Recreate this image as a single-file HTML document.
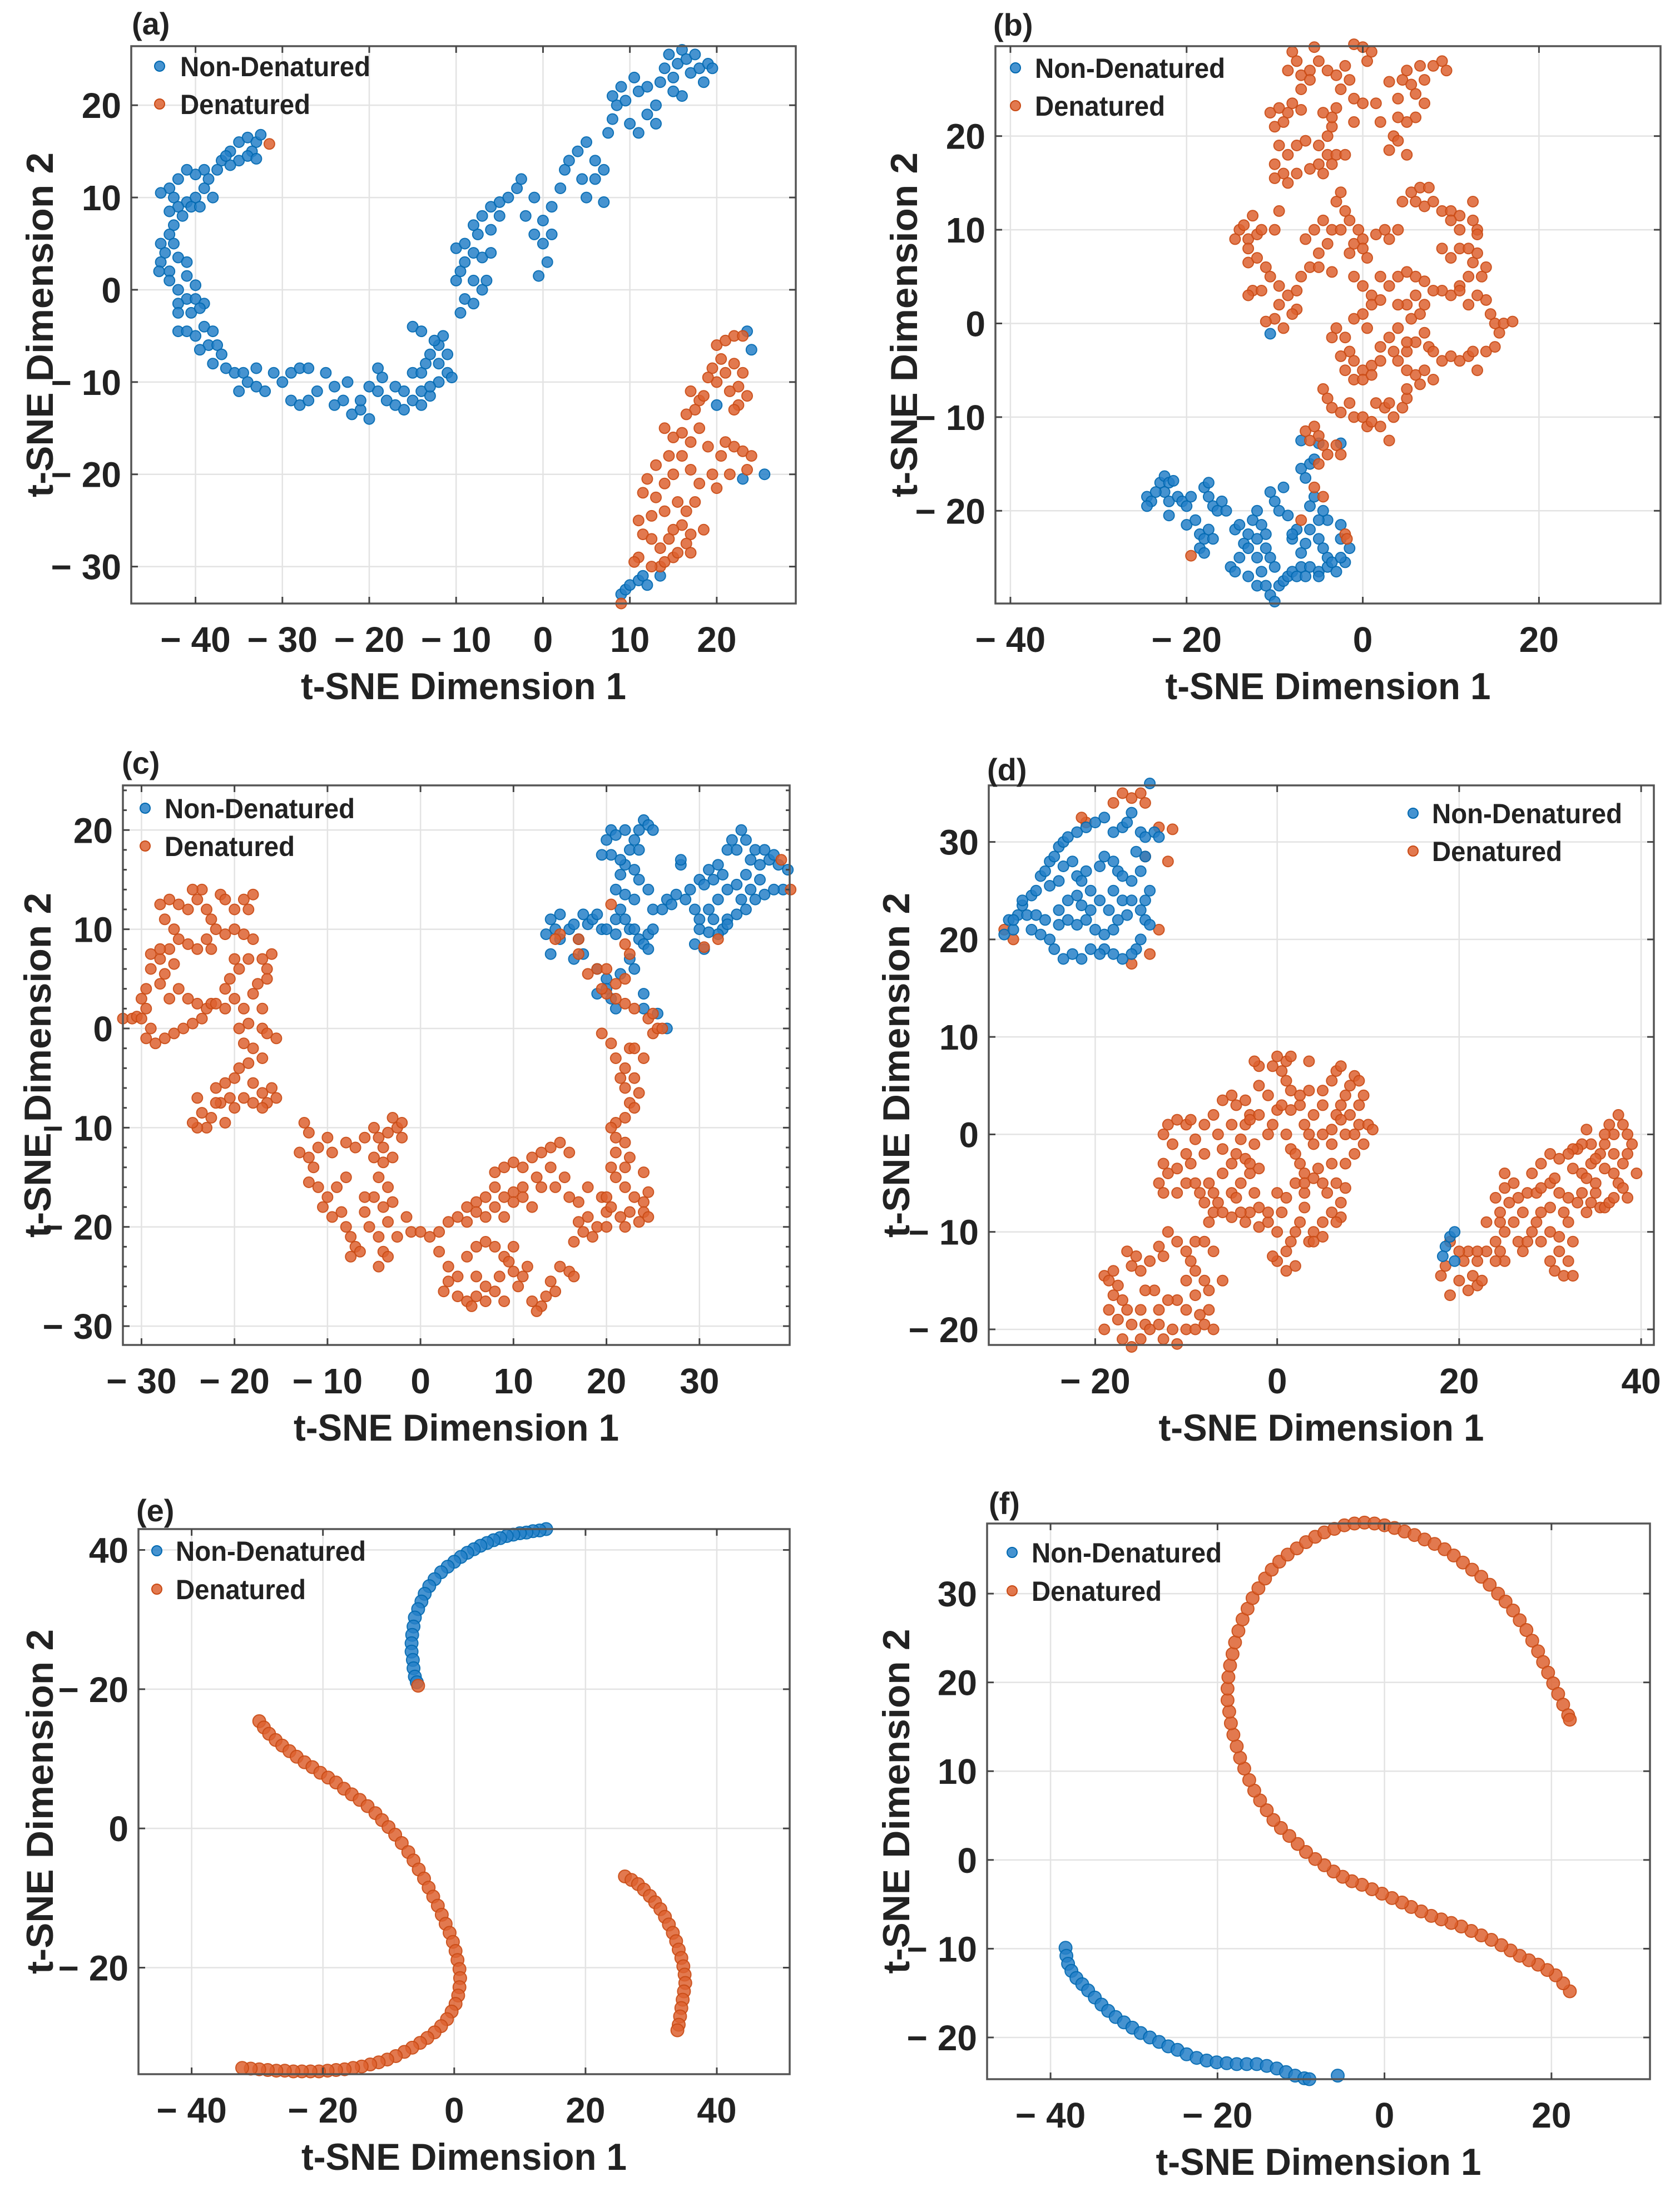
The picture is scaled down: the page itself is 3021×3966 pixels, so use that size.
<!DOCTYPE html>
<html><head><meta charset="utf-8">
<style>
html,body{margin:0;padding:0;background:#fff;}
svg{display:block;}
text{font-family:"Liberation Sans",Arial,sans-serif;font-weight:bold;fill:#222;}
</style></head>
<body>
<svg id="fig" width="3021" height="3966" viewBox="0 0 3021 3966" xmlns="http://www.w3.org/2000/svg"></svg>
<script>
// ---------------- DATA ----------------
const seriesNames = ["Non-Denatured", "Denatured"];
const panelLetters = ["(a)","(b)","(c)","(d)","(e)","(f)"];

const aTicksX = [-40,-30,-20,-10,0,10,20];
const aTicksY = [-30,-20,-10,0,10,20];
const bTicksX = [-40,-20,0,20];
const bTicksY = [-20,-10,0,10,20];
const cTicksX = [-30,-20,-10,0,10,20,30];
const cTicksY = [-30,-20,-10,0,10,20];
const dTicksX = [-20,0,20,40];
const dTicksY = [-20,-10,0,10,20,30];
const eTicksX = [-40,-20,0,20,40];
const eTicksY = [40,20,0,-20];
const eTickLabelsY = ["40","\u2212 20","0","\u2212 20"];
const fTicksX = [-40,-20,0,20];
const fTicksY = [-20,-10,0,10,20,30];

const aBlue = [[-37,14],[-36,15],[-35,16],[-34,16.5],[-33,16],[-32.5,16.8],[-33.5,15],[-35,14],[-36,13.5],[-34,14.5],[-33,14.2],[-37.5,13],[-36.5,14.5],
[-39,13],[-38.5,12],[-40,12.5],[-41,13],[-42,12],[-43,11],[-44,10.5],[-42.5,10],[-41,9.5],[-40,10],[-39,11],[-38,10],[-42,9],[-43,8.5],[-41.5,8],[-40.5,9],[-39.5,9],[-42.5,7],
[-43,6],[-44,5],[-43.5,4],[-42.5,5],[-44,3],[-43,2],[-42,3.5],[-41,3],[-44.2,2],[-43,1],[-42,0],[-41,1.5],[-40,0.5],[-41,-1],[-42,-1.5],[-40,-1],[-39,-1.5],[-42,-2.5],[-40.5,-2.5],[-39.5,-2],
[-42,-4.5],[-41,-4.5],[-40,-5],[-39,-4],[-38,-4.5],[-38.5,-6],[-39.5,-6.5],[-37.5,-6],[-37,-7],[-38,-8],[-36.5,-8.5],[-35.5,-9],[-34.5,-9],[-33,-8.5],[-34,-10],[-35,-11],[-33,-10.5],[-32,-11],[-31,-9],[-30,-10],[-29,-9],[-28,-8.5],[-27,-8.5],
[-29,-12],[-28,-12.5],[-27,-12],[-26,-11],[-25,-9],[-24,-10.5],[-23,-12],[-22,-13.5],[-21,-13],[-20,-14],[-21,-12],[-24,-12.5],[-22.5,-10],[-20,-10.5],[-19,-11],[-18,-12],[-17,-12.5],[-18.5,-9.5],[-19,-8.5],[-17,-10.5],[-16,-11],[-16,-13],[-15,-12],[-14,-11],[-15,-9],
[-14,-9],[-13.5,-8],[-13,-7],[-12,-6],[-11.5,-5],[-12.5,-5.5],[-11,-7],[-11,-9],[-10.5,-9.5],[-12,-10],[-13,-11.5],[-14,-12.5],[-15,-4],[-14,-4.5],[-13,-10.5],[-12,-8],
[-10,1],[-9.5,2],[-10,4.5],[-9,5],[-8,4],[-9,3],[-7,3.5],[-8,1],[-7,0],[-6.5,1],[-9,-1],[-8,-1.5],[-9.5,-2.5],[-7.5,6],[-8,7],[-7,8],[-6,9],[-5,9.5],[-4,10],[-5,8],[-6,6.5],[-6,4],[-3,11],[-2.5,12],[-2,8],[-1,10],[-1,6],[0,5],[1,6],[0.5,3],[-0.5,1.5],[0,7.5],[1,9],[2,11],[2.5,13],[3,14],[4,15],[4.5,12],[5,10],[6,12],[7,13],[7,9.5],[6,14],[5,16],
[7.5,17],[8,18.5],[8.5,20],[9,22],[8,21],[9.5,20.5],[10,18],[11,17],[11,21.5],[10.5,23],[12,22],[12,19],[13,20],[13.5,22.5],[14,24],[14.5,25.5],[15,23],[15.5,24.5],[16,26],[16.5,25],[17,23.5],[17.5,25.5],[18,24],[18.5,22.5],[19,24.5],[19.5,24],[16,21],[15,21.5],[13,18],
[9,-33],[9.5,-32.5],[10,-32],[11,-31.5],[11.5,-31],[12,-32],
[23.5,-4.5],[24,-6.5],[23,-20.5],[25.5,-20],[20,-12.5],[13.5,-31]];
const aOrange = [[20,-6],[21,-5.5],[22,-5],[23,-5],[20.5,-7.5],[19.5,-8.5],[21,-9],[22,-8],[23,-9],[22.5,-10.5],[21.5,-11],[20,-10],[19,-9.5],[23.5,-11.5],[22.5,-12.5],[22,-13],[17,-11],[18,-12],[17.5,-13],[18.5,-11.5],[16.5,-13.5],
[14,-15],[15,-16],[16,-15.5],[17,-16.5],[18,-15],[19,-17],[16,-18],[14.5,-18],[13,-19],[15,-20],[17,-19.5],[18,-21],[19.5,-20],[20.5,-18],[21,-16.5],[22,-17],[23,-17.5],[24,-18],[23.5,-19.5],[21.5,-20],[20,-21.5],[12,-20.5],[11.5,-22],[13,-22.5],[14,-21],[15.5,-23],[16.5,-24],[17.5,-23],[18.5,-26],[17,-26.5],[16,-25.5],[15,-26],[14,-24],[12.5,-24.5],[11,-25],[11.5,-26.5],[12.5,-27],[13.5,-28],[14.5,-27],[15,-29],[13.5,-30],[12.5,-30],[11,-29],[10.5,-29.5],[14,-29.5],[15.5,-28.5],[16.5,-27.5],[17,-28.5],[9,-34],[-31.5,15.8]];

const bOrange = [[-8,29],[-7.5,28],[-8.5,27],[-7,26.5],[-6,27],[-5,28],[-4,27],[-5.5,29.5],[-3,26.5],[-2,27.5],[-1,29.8],[0,29.5],[1,29],[0.5,28],[-1.5,26],[-2.5,25],[-1,24],[0,23.5],[1.5,23.5],[-3,23],[-4.5,22.5],[-6,26],[-7,25],[3,25.8],[4,24],[4.5,26],[5.5,25.5],[6,24.5],[5,27],[6.5,27.5],[7,26],[8,27.5],[9,28],[9.5,27],[7,23.5],[6,22],[5,21.5],[4,22],[3.5,20],[3,18.5],[4,19.5],[5,18],[2,21.5],[-1,21.5],[-3.5,21],[-4,20],[-3.5,22],
[-10.5,22.5],[-9.5,23],[-8.5,22.5],[-10,21],[-9,21.5],[-8,23.5],[-7,22.8],[-9.5,19],[-8.5,18],[-7.5,19],[-6.5,19.5],[-10,17],[-9,16],[-10,15.5],[-8.5,15],[-7.5,16],[-6,16.5],[-5,17],[-5,19],[-4,18],[-3,18],[-2,18],[-3.5,17],[-4.5,16],[-9.5,12],
[-14,10],[-13.5,10.5],[-14.5,9],[-13,9],[-13,8],[-12.5,11.5],[-12,9.5],[-11.5,10],[-10,10],[-13,6.5],[-12,7],[-11,6],[-10.5,5],[-9.5,4],[-12.5,3.5],[-13,3],[-11.5,3.5],[-9.5,2],[-8.5,3],[-7.5,1.5],[-10,0.5],[-11,0.2],[-9,-0.5],[-8,1],[-7.5,3.5],[-7,5],[-6,6],[-5,7.5],[-6.5,9],[-5.5,10],[-4.5,11],[-3.5,10],[-4,8.5],[-5,6],[-3.5,5.5],
[-3,13],[-2.5,14],[-2,12],[-1.5,11],[-2.5,10],[-1,8.5],[-0.5,10],[0,9],[0,8],[0.5,7],[-1.5,7.5],[1.5,9.5],[2.5,10],[3,9],[4,10],[-1,5],[0,4],[1,3],[0,1],[-1,0.5],[0.5,-0.5],[1,2],[2,2.5],[3,4],[4,5],[2,5],[5,5.5],[6,5],[7,4.5],[6,3],[5,2],[4,2],[5.5,0.5],[4,-0.5],[3,-1.5],[2,-2.5],[3.5,-3],[-3,-0.5],[-3.5,-1.5],[-2,-1.5],[-1.5,-3],[-2.5,-3.5],[-1,-4],[0,-5],[1,-4.5],[-2,-5],[-1,-6],[0,-6],[1,-5.5],[2,-4],
[4.5,13],[5.5,14],[6.5,14.5],[6,13],[7.5,14.5],[7,12.5],[8,13],[9,12],[10,12],[11,11.5],[12.5,11],[12.5,13],[13,10],[11,10],[10,11],[13,9.5],[9,8],[10,7],[11,8],[12,8],[12.5,6.5],[13,7.5],[14,6],[13.5,5],[12,5],[11,4],[10,3],[9,3.5],[8,3.5],[7,2],[6.5,1],[7,-1],[7.5,-2.5],[8,-3],[9,-4],[10,-3.5],[11,-4],[12,-3.5],[13,-5],[12.5,-3],[14,-3],[15,-2.5],[15.5,-1],[15,0],[16,0],[17,0.2],[14.5,1],[14,2.5],[13,3],[12,2],[11,3.5],[6,-2],[5,-3],[4,-4],[5,-5],[6,-5.5],[7,-5],[8,-6],[6.5,-6.5],[5,-2],
[-4.5,-7],[-4,-8],[-3.5,-9],[-2.5,-9.5],[-1.5,-8.5],[-1,-10],[0,-10],[0.5,-11],[1,-10.5],[1.5,-8.5],[2.5,-9],[3,-12.5],[2,-11],[3.5,-10],[4.5,-9],[5,-8],[5,-7],[3,-8.5],
[-6.5,-11.5],[-5.5,-11],[-5,-12],[-6,-12.5],[-4.5,-13],[-3,-13],[-2.5,-14],[-4,-14],[-5,-15],[-5.5,-17.5],[-4.5,-18.5],[-7,-21],[-2,-22.5],[-1.8,-23],[-19.5,-24.8]];
const bBlue = [[-24.5,-18.5],[-24,-19],[-23,-17],[-22.5,-16.3],[-22,-17],[-22.5,-18],[-23.5,-18],[-24.5,-19.5],[-22,-19],[-21,-18.5],[-21.5,-16.8],[-20.5,-19],[-20,-19.5],[-19.5,-18.5],[-18,-17.5],[-17.5,-17],[-17.5,-18.5],[-17,-19.5],[-16,-19],[-16.5,-20],[-15.5,-20],[-22,-20.5],[-20,-21.5],[-19,-21],[-18.5,-22.5],[-18,-23],[-17.5,-22],[-17,-23],[-18.5,-24],[-18,-24.5],[-14.5,-22],[-14,-21.5],[-13,-22.5],[-13.5,-23.5],[-12.5,-21],[-12,-20],[-11.5,-21.5],[-11,-22.5],[-12,-23],[-13,-24],[-12,-25],[-14,-25],[-15,-26],[-14.5,-26.5],[-13,-27],[-11,-24],[-10.5,-25],[-10,-26],[-11.5,-26.5],[-12,-28],[-11,-28],[-10.5,-29],[-10,-29.7],[-9.5,-28],[-9,-27.5],[-8.5,-27],[-8,-26.5],[-7,-26],[-6,-26],[-5,-26.5],[-4,-26],[-3,-26.5],[-2,-25.5],[-7.5,-27],[-6.5,-27],[-5,-27],[-4,-25],[-3.5,-25.5],[-2.5,-25],[-1.5,-24],[-2.5,-23],[-6.5,-23.5],[-6,-22],[-5,-23],[-4.5,-24],[-7,-24.5],[-8,-23],[-7.5,-22],[-10,-19],[-10.5,-18],[-9.5,-20],[-9,-17.5],[-8.5,-20.5],[-8,-22.5],[-4.5,-20],[-4,-21],[-5,-21],[-6,-19.5],[-5.5,-18.5],[-6.5,-16.5],[-7,-15.5],[-6,-15],[-5.5,-14.5],[-7,-12.5],[-5,-12.8],[-2.5,-12.8],[-2.5,-21.5],[-10.5,-1.1]];

const cOrange = [[-32,1],[-31,1],[-30.5,1.2],[-30,1],[-29.5,2],[-29,0],[-29.5,-1],[-28.5,-1.5],[-27.5,-1],[-26.5,-0.5],[-25.5,0],[-24.5,0.5],[-23.5,1],[-23,2],[-22.5,2.5],[-24,2.5],[-25,3],[-26,4],[-27,3],[-28,4.5],[-29.5,4],[-30,3],[-29,6],[-28,7],[-27,8],[-26,9],[-26.5,10],[-27.5,11],[-28,12.5],[-27,13],[-26,12.5],[-25,12],[-24,13],[-23.5,14],[-24.5,14],[-23,12],[-22.5,11],[-21.5,13.5],[-21,13],[-20,12],[-19,13],[-18.5,12],[-18,13.5],[-22,10],[-21,9.5],[-20,10],[-19,9.5],[-18,9],[-23,9],[-24,8],[-25,8.5],[-22.5,8],[-26.5,6.5],[-27.5,5.5],[-28,8],[-29,7.5],[-20,7],[-19.5,6],[-18.5,7],[-17,7],[-16,7.5],[-16.5,6],[-20.5,5],[-21,4],[-20,3],[-19,2],[-18,3.5],[-17.5,4.5],[-16.5,5],[-17,2],[-21,2],[-22,2.5],[-19.5,0],[-18.5,0.5],[-17,0],[-16.5,-0.5],[-15.5,-1],[-19,-1.5],[-18,-2],[-17,-3],[-18.5,-3.5],[-19.5,-4],[-20,-5],[-21,-5.5],[-22,-6],[-20.5,-7],[-21.5,-7.5],[-22.5,-9],[-23,-10],[-24,-10],[-24.5,-9.5],[-23.5,-8.5],[-21,-9.5],[-20,-8],[-19,-7],[-18,-7.5],[-17,-6.5],[-16,-6],[-16.5,-7.5],[-15.5,-7],[-17,-8],[-22,-7.5],[-24,-7],[-18,-5.5],
[-12.5,-9.5],[-12,-10.5],[-13,-12.5],[-12,-13],[-11,-12],[-10,-11],[-9.5,-12.5],[-11.5,-14],[-12,-15.5],[-11,-16],[-10,-17],[-9,-16],[-8,-15],[-10.5,-18],[-9.5,-19],[-8.5,-18.5],[-8,-20],[-7.5,-21],[-7,-22],[-7.5,-23],[-6.5,-22.5],[-8,-11.5],[-7,-12],[-6,-11],[-5,-10],[-4.5,-11],[-4,-12],[-3.5,-10.5],[-3,-9],[-2.5,-10],[-2,-11],[-2,-9.5],[-3,-13],[-4,-13.5],[-5,-13],[-4.5,-15],[-3.5,-16],[-3,-17.5],[-4,-18],[-5,-17],[-6,-17],[-6,-18.5],[-5.5,-20],[-4.5,-21],[-4,-22.5],[-4.5,-24],[-3.5,-23],[-2.5,-21],[-3.5,-19.5],
[-1.5,-19],[-1,-20.5],[0,-20.5],[1,-21],[2,-20.5],[3,-19.5],[4,-19],[5,-18],[6,-17.5],[7,-17],[8,-16],[8,-14.5],[9,-14],[10,-13.5],[11,-14],[12,-13],[13,-12.5],[14,-12],[15,-11.5],[16,-12.5],[14,-14],[12.5,-15],[11,-16],[10,-16.5],[9,-17],[8,-18],[7,-19],[6,-18.5],[5,-19.5],[9,-19],[10,-17.5],[11,-17],[12,-18],[13,-16],[14.5,-16],[15.5,-15],[16,-17],[17,-17.5],[18,-16],[17,-19.5],[17.5,-20.5],[18.5,-21],[19,-20],[20,-18.5],[19.5,-17],[18,-19],[16.5,-21.5],[2,-22.5],[3,-24],[4,-25],[3,-25.5],[2.5,-26.5],[4,-27],[5,-27.5],[5.5,-28],[6,-27],[7,-26],[8,-26.5],[7,-27.5],[8.5,-25],[9,-23],[8,-22],[7,-21.5],[6,-22],[5,-23],[6,-25],[9.5,-23.5],[10,-24.5],[11,-25],[10.5,-26],[11.5,-24],[12,-27.5],[13,-28],[12.5,-28.5],[13.5,-27],[14,-25.5],[15,-24],[16,-24.5],[16.5,-25],[14.5,-26.5],[9,-27.5],[10,-22],
[19.5,-0.5],[20.5,-1.5],[21,-3],[22,-4],[21.5,-5],[22,-6],[23,-5],[23.5,-6.5],[22.5,-7.5],[23,-8],[22,-9],[21,-9.5],[20.5,-10],[21,-11],[22,-11.5],[21,-12.5],[20.5,-14],[21,-15],[22,-16],[23,-17],[24,-17.5],[22.5,-18.5],[21.5,-19],[20.5,-18],[20,-20],[22,-20],[22,-14],[24,-14.5],[24.5,-16.5],[24,-18.5],[24.5,-19],[23.5,-19.5],[22.5,-13],[20,-17],[22.5,-2],[24,-3],[23,-2],[25,-0.5],[25.5,0],[26,0],[24.5,1],[25,1.5],[23,2],[22,2.5],[21,3],[20,3.5],[19.5,4],[18,5.5],[19,6],[17,7.5],[17,9],[15,9.5],[14.5,9],[21,4.5],[20,6],[22,5],[22.5,7.5],[22,8.5],[20.5,12.5],[38.8,17],[39.8,14],[30.5,8.2],[32,9]];
const cBlue = [[14,7.5],[13.5,9.5],[14,11],[15,11.5],[14.5,10],[15,9],[16,10],[16.5,10.5],[17,9],[17.5,11.5],[18,10.5],[18.5,11],[19,11.5],[19.5,10],[20,10],[21,9.5],[21,11],[22,11],[22.5,10],[23,10],[23.5,9],[24,8.5],[24.5,9.5],[25,10],[24.5,8],[25,12],[24.5,14],[23.5,15],[23,16],[22,16.5],[21.5,15.5],[21,14],[22,13.5],[23,13],[21.5,17],[20.5,17.5],[20,19],[19.5,17.5],[20.5,20],[21,19.5],[22,20],[22.5,18],[23,19],[23.5,20],[24,21],[24.5,20.5],[25,20],[23.5,18],[16.5,7],[17.5,7.5],[19,6],[20,5],[20,4],[19,3.5],[20.5,3],[21,2],[21.5,5.5],[22.5,7],[23,6],[24,3.5],[24,2],[25.5,1.5],[26.5,0],[21.5,12],[28,16.5],[28.5,13],[29,14],[29.5,12],[30,11],[30,10],[30.5,8],[29.5,8.5],[30,15],[30.5,14.5],[31,16],[31.5,15],[32,16.5],[32.5,15.5],[33,18],[33.5,19],[34,18],[34.5,20],[35,19],[35.5,17],[36,18],[36.5,16.5],[37,18],[37.5,17],[38,17.5],[38.5,16.5],[39.5,16],[39,14],[38,14],[37,13.5],[36,13],[36.5,15],[35,15.5],[34,14.5],[33,14],[32,13],[31.5,11],[32.5,10],[33,11],[34,11.5],[35,12],[35.5,14],[34.5,13],[31,12],[33,10.5],[32,9.5],[31,9.7],[27.5,13.5],[26.5,13],[26,12],[27,12.5],[28,17]];

const dBlue = [[-29.5,22],[-29,21],[-28.5,22.5],[-28,23.5],[-27.5,22.5],[-27,24.5],[-26.5,25],[-26,26.5],[-25.5,27],[-25,28],[-24.5,28.5],[-24,29.5],[-23.5,30],[-23,30.5],[-22,31],[-21,31.5],[-20,32],[-19,32.5],[-18,31],[-17,31.5],[-16.5,32],[-16,33],[-15,31],[-14.5,30.5],[-13.5,31],[-14,36],[-13,30.5],[-25,25.5],[-24,26],[-23.5,27.5],[-22.5,28],[-22,26.5],[-21.5,26],[-21,27],[-20.5,25],[-19.5,27.5],[-19,28.5],[-18,28],[-17.5,27],[-17,26.5],[-16,26],[-15,27],[-14.5,28.5],[-15.5,29],[-14,25],[-14.5,24],[-15,23],[-14.5,22],[-14,21.5],[-15,20],[-15.5,19],[-16,18.5],[-17,18],[-18,18.5],[-19,19],[-19.5,18.5],[-20.5,19],[-21.5,18],[-22.5,18.5],[-23.5,18],[-24.5,19],[-25,20],[-26,20.5],[-27,21],[-26.5,22.5],[-25.5,22],[-24,21.5],[-23,22],[-22,21.5],[-21,22],[-20,21],[-19,20.5],[-18,21],[-17.5,22],[-18.5,23],[-19.5,24],[-20.5,23],[-21.5,23.5],[-22,24.5],[-23,24],[-24,23],[-17,24],[-16,24],[-16.5,22.5],[-18,25],[-28,24],[-29,22],[-30,20.5],[18.5,-11.5],[19,-10.5],[19.5,-10],[18.2,-12.5],[19.5,-13]];
const dOrange = [[-30,21],[-29,20],[-21,32],[-18,34],[-17,35],[-16,34.5],[-15,35],[-14.5,34],[-13,31.5],[-11.5,31.3],[-12,28],[-14.5,28.5],[-13,21],[-14,18.5],[-16,17.5],[-21.5,32.5],
[-19,-14.5],[-18.5,-15],[-18,-14],[-17.5,-15.5],[-18,-16.5],[-17,-17],[-18.5,-18],[-19,-20],[-17.5,-19],[-16.5,-18],[-16,-19.5],[-17,-21],[-16,-21.8],[-15,-21],[-14.5,-19.5],[-15,-18],[-14,-20],[-13,-19.5],[-12.5,-21],[-11.5,-20],[-11,-21.5],[-10,-20],[-9,-20],[-8,-19.5],[-7,-20],[-7.5,-18],[-8.5,-18.5],[-10,-18],[-11,-17],[-12,-17],[-13,-18],[-13.5,-16],[-14.5,-16],[-15,-14],[-16,-13.5],[-16.5,-12],[-15.5,-12.5],[-14,-13],[-13,-11.5],[-12,-10],[-11,-11],[-12.5,-12.5],[-10,-15],[-9,-14],[-8,-15],[-7.5,-16],[-9,-16.5],[-10,-12],[-9,-11],[-8,-11],[-7,-12],[-6,-15],[-9.5,-13],[-12.5,-6],[-13,-5],[-12,-4],[-11,-3.5],[-12.5,-3],[-11.5,-1],[-12.5,0],[-12,1],[-11,1.5],[-10,1],[-9.5,1.5],[-10,-2],[-9.5,-3],[-11,-6],[-10,-5],[-9,-5],[-8.5,-6],[-7.5,-5],[-7,-6],[-6,-4],[-6.5,-7],[-7,-8],[-7.5,-9],[-8,-7],[-5,-6],[-4,-5],[-5,-3],[-4.5,-2],[-3.5,-2.5],[-3,-4],[-2,-3.5],[-2.5,-6],[-2,-7.5],[-3,-8],[-3.5,-9],[-2,-9.5],[-1,-9],[0,-10],[-1,-8],[0.5,-8],[1,-6.5],[0,-6],[-4,-8],[-5,-8.5],[-6,-8],[-3,-3],[-2.5,-1],[-3.5,1],[-3,2],[-2,2],[-1,0],[0,2.5],[0.5,3],[-0.5,1],[1,0],[1.5,-1.5],[2,-2],[2.5,-3],[3,-4],[2,-5],[3,-6],[3,-7.5],[2.5,-9],[2,-10],[1.5,-11],[1,-12],[0,-13],[-0.5,-12.5],[1,-14],[2,-13.5],[3.5,-11],[4,-10],[5,-9],[6,-8],[7,-8.5],[6.5,-9],[5,-10.5],[4,-11],[3,-5],[4,-4.5],[5,-5],[5.5,-6],[6.5,-5],[7.5,-5.5],[7,-7],[6,-3],[4.5,-3.5],[4,-1],[3.5,0],[3,1],[2.5,3],[1.5,2.5],[1.5,4.5],[2.5,4],[3.5,4.5],[1,5.5],[0.5,6.5],[1,7.5],[1.5,8],[0,8],[-0.5,7],[-2,7],[-2.5,7.5],[3.5,7.5],[-3,1.5],[5,0],[6,0.5],[6.5,2],[7,3],[7.5,4],[8,5],[8.5,6],[9,5.5],[9.5,4],[9,3],[8,2],[7,1.5],[7.5,0],[8.5,0],[9,1],[10,1],[10.5,0.5],[9.5,-1],[8.5,-2],[7.5,-3],[6.5,6.5],[6,5.5],[7,7],[5,3],[6,-1],[4,2],[5,4.5],[-1,4],[-2,5],[-3.5,3.5],[-4.5,3],[-5,4],[-6,3.5],[-7,2],[-8,1],[-6.5,0],[-5,1],[-4,-0.5],[-6,-1.5],[-4.5,-6.5],[-8,-2],[-9,-0.5],
[19,-11],[18.5,-13.5],[18,-14.5],[19,-16.5],[20,-15],[20.5,-13],[21,-12],[21.5,-14.5],[21,-16],[22,-15.5],[22.5,-15],[22,-13],[23,-12],[24,-11],[24.5,-12],[25,-13],[24,-13],[25,-10],[24.5,-9],[24.5,-8],[25.5,-7],[26,-9],[26.5,-11],[27,-12],[27.5,-11],[28,-10],[29,-11],[28.5,-9],[27,-8],[26.5,-6.5],[27.5,-6],[28.5,-6],[29,-5.5],[30,-5],[30.5,-4.5],[31,-6],[30,-7.5],[29,-8],[30,-10],[31,-10.5],[31,-12],[30,-13],[30.5,-14],[31.5,-14.5],[32.5,-14.5],[32,-13],[32.5,-11],[32,-9],[31.5,-8],[32,-6.5],[33,-7],[33.5,-6],[34,-8],[34.5,-7],[35,-6],[35.5,-7.5],[36,-7.5],[36.5,-7],[37,-6.5],[37.5,-5],[38,-5.5],[38.5,-6.5],[38,-3],[38.5,-2],[39,-1],[39.5,-4],[38.5,0],[38,1],[37.5,2],[37,0],[36.5,1],[36,-1],[35.5,-2],[34.5,-1],[34,0.5],[33.5,-1],[33,-1.5],[32.5,-1.5],[32,-2],[32.5,-3.5],[33.5,-4],[34.5,-3],[35,-2.5],[36,-3.5],[37,-4],[35,-5],[34,-4.5],[29,-3],[28,-4],[30,-2],[31,-2.5],[26,-5],[25,-5.5],[24,-6.5],[25,-4],[23,-9],[22,-12],[20,-12],[36,0],[37,-2]];

const eBlue = [[14,43],[13,42.8],[12,42.7],[11,42.5],[10,42.4],[9,42.2],[8,42],[7,41.7],[6,41.4],[5,41],[4,40.6],[3,40.1],[2,39.6],[1,39],[0,38.3],[-1,37.6],[-2,36.8],[-3,35.8],[-3.8,34.8],[-4.5,33.7],[-5,32.6],[-5.5,31.5],[-6,30.3],[-6.2,29],[-6.4,27.8],[-6.5,26.6],[-6.5,25.4],[-6.3,24.2],[-6.2,23],[-6,21.8],[-5.7,21]];
const eOrange = [[-5.5,20.5],[-29.7,15.4],[-29,14.5],[-28.2,13.6],[-27.2,12.7],[-26.2,11.9],[-25.1,11.1],[-24,10.3],[-22.8,9.5],[-21.6,8.8],[-20.4,8],[-19.2,7.3],[-18,6.6],[-16.8,5.7],[-15.6,4.9],[-14.4,4.1],[-13.2,3.2],[-12,2.2],[-11,1.2],[-10,0.2],[-9,-0.9],[-8,-2.1],[-7,-3.4],[-6.2,-4.6],[-5.4,-5.9],[-4.6,-7.2],[-3.9,-8.5],[-3.2,-9.8],[-2.5,-11.1],[-1.9,-12.4],[-1.3,-13.7],[-0.7,-15],[-0.2,-16.3],[0.2,-17.6],[0.5,-18.9],[0.8,-20.2],[0.9,-21.5],[0.8,-22.8],[0.6,-24],[0.2,-25.2],[-0.4,-26.3],[-1.1,-27.4],[-2,-28.4],[-3,-29.3],[-4.1,-30.1],[-5.2,-30.8],[-6.4,-31.5],[-7.6,-32.1],[-8.9,-32.7],[-10.2,-33.2],[-11.5,-33.6],[-12.8,-33.9],[-14.1,-34.2],[-15.4,-34.4],[-16.7,-34.6],[-18,-34.7],[-19.3,-34.8],[-20.6,-34.9],[-21.9,-34.9],[-23.2,-34.9],[-24.5,-34.9],[-25.8,-34.8],[-27.1,-34.8],[-28.4,-34.7],[-29.7,-34.6],[-31,-34.5],[-32.3,-34.4],
[26,-6.9],[27,-7.4],[28,-8],[28.9,-8.8],[29.8,-9.7],[30.6,-10.6],[31.4,-11.6],[32.1,-12.7],[32.7,-13.8],[33.3,-15],[33.8,-16.2],[34.2,-17.4],[34.6,-18.6],[34.9,-19.8],[35.1,-21],[35.2,-22.2],[35,-23.4],[34.8,-24.6],[34.6,-25.8],[34.4,-27],[34.2,-28.2],[34,-29]];

const fOrange = [[22.2,-14.8],[21.4,-13.9],[20.5,-13],[19.5,-12.4],[18.4,-11.8],[17.3,-11.3],[16.2,-10.8],[15.1,-10.2],[14,-9.6],[12.8,-9],[11.6,-8.5],[10.4,-8],[9.2,-7.5],[8,-7.1],[6.8,-6.7],[5.6,-6.3],[4.4,-5.8],[3.2,-5.3],[2.1,-4.8],[0.9,-4.3],[-0.3,-3.8],[-1.5,-3.3],[-2.7,-2.8],[-3.9,-2.4],[-5,-1.9],[-6.1,-1.3],[-7.2,-0.6],[-8.3,0.1],[-9.4,0.9],[-10.4,1.8],[-11.4,2.7],[-12.4,3.6],[-13.3,4.5],[-14.1,5.6],[-14.9,6.7],[-15.6,7.8],[-16.2,9],[-16.8,10.3],[-17.3,11.5],[-17.7,12.8],[-18.1,14.1],[-18.4,15.4],[-18.6,16.7],[-18.8,18],[-18.8,19.3],[-18.7,20.6],[-18.5,21.9],[-18.2,23.2],[-17.9,24.5],[-17.5,25.8],[-17,27.1],[-16.4,28.3],[-15.8,29.5],[-15.1,30.6],[-14.3,31.7],[-13.5,32.7],[-12.6,33.6],[-11.6,34.4],[-10.5,35.1],[-9.4,35.8],[-8.3,36.4],[-7.2,36.9],[-6,37.3],[-4.8,37.7],[-3.6,37.9],[-2.4,38],[-1.2,37.9],[0,37.7],[1.2,37.4],[2.4,37],[3.6,36.6],[4.8,36.1],[6,35.6],[7.2,35],[8.3,34.3],[9.4,33.5],[10.5,32.7],[11.6,31.9],[12.6,31],[13.6,30],[14.5,29.1],[15.4,28.1],[16.2,27],[17,25.9],[17.7,24.7],[18.4,23.5],[19,22.3],[19.6,21.1],[20.2,19.9],[20.8,18.7],[21.4,17.5],[22,16.3],[22.2,15.8]];
const fBlue = [[-38.2,-9.9],[-38.1,-10.8],[-37.9,-11.7],[-37.5,-12.5],[-36.9,-13.3],[-36.2,-14],[-35.5,-14.7],[-34.7,-15.5],[-33.9,-16.3],[-33.1,-17],[-32.2,-17.7],[-31.2,-18.3],[-30.2,-18.9],[-29.2,-19.5],[-28.1,-20],[-27,-20.5],[-25.9,-21],[-24.8,-21.4],[-23.7,-21.9],[-22.5,-22.3],[-21.3,-22.6],[-20.1,-22.8],[-18.9,-22.9],[-17.7,-23],[-16.5,-23],[-15.3,-23],[-14.1,-23.2],[-12.9,-23.5],[-11.8,-23.9],[-10.7,-24.3],[-9.6,-24.6],[-9,-24.7],[-5.6,-24.3]];

// ---------------- LAYOUT ----------------
const panels = [
 {id:"a",box:[236,1431,83,1085],xd:[-47.4,29.1],yd:[-34.0,26.4],tx:aTicksX,ty:aTicksY,tyl:null,blue:aBlue,orange:aOrange,lab:[237,62],leg:[287,119,187,324],yt:71,r:9.5,minor:false},
 {id:"b",box:[1790,2986,83,1085],xd:[-41.7,33.8],yd:[-29.9,29.6],tx:bTicksX,ty:bTicksY,tyl:null,blue:bBlue,orange:bOrange,lab:[1786,64],leg:[1826,122,190,1861],yt:1625,r:9.5,minor:false},
 {id:"c",box:[221,1420,1412,2418],xd:[-32.0,39.7],yd:[-31.9,24.5],tx:cTicksX,ty:cTicksY,tyl:null,blue:cBlue,orange:cOrange,lab:[219,1391],leg:[261,1453,1521,296],yt:67,r:9.5,minor:true},
 {id:"d",box:[1778,2974,1412,2418],xd:[-31.7,41.4],yd:[-21.6,35.8],tx:dTicksX,ty:dTicksY,tyl:null,blue:dBlue,orange:dOrange,lab:[1775,1403],leg:[2541,1462,1530,2575],yt:1611,r:9.5,minor:false,orangeFirst:true},
 {id:"e",box:[249,1420,2749,3729],xd:[-48.1,51.1],yd:[-35.3,43.0],tx:eTicksX,ty:eTicksY,tyl:eTickLabelsY,blue:eBlue,orange:eOrange,lab:[245,2735],leg:[282,2788,2857,316],yt:71,r:11.5,minor:false},
 {id:"f",box:[1775,2967,2739,3738],xd:[-47.6,31.8],yd:[-24.7,37.9],tx:fTicksX,ty:fTicksY,tyl:null,blue:fBlue,orange:fOrange,lab:[1778,2722],leg:[1820,2791,2860,1855],yt:1611,r:11.5,minor:false}
];

const NS = "http://www.w3.org/2000/svg";
const svg = document.getElementById("fig");
function mk(tag, attrs, parent){ const e=document.createElementNS(NS,tag); for(const k in attrs) e.setAttribute(k,attrs[k]); parent.appendChild(e); return e; }
function fmt(v){ return v<0 ? "\u2212 "+Math.abs(v) : String(v); }
const BLUE_F="#2680c8", BLUE_S="#0068b0", OR_F="#dd6230", OR_S="#c94a14";

panels.forEach((p,pi)=>{
  const [L,R,T,B]=p.box;
  const sx = v => L + (v-p.xd[0])/(p.xd[1]-p.xd[0])*(R-L);
  const sy = v => B - (v-p.yd[0])/(p.yd[1]-p.yd[0])*(B-T);
  const g = mk("g",{},svg);
  
  
  mk("rect",{x:L,y:T,width:R-L,height:B-T,fill:"#fff"},g);
  const grid = mk("g",{stroke:"#e3e3e3","stroke-width":2.5},g);
  
  
  p.tx.forEach(v=>{ const x=sx(v); mk("line",{x1:x,x2:x,y1:T,y2:B},grid); });
  p.ty.forEach(v=>{ const y=sy(v); mk("line",{x1:L,x2:R,y1:y,y2:y},grid); });
  const plot = mk("g",{},g);
  
  
  const drawSeries=(arr,fill,stroke,name)=>{
    const sg = mk("g",{},plot);
    
    
    arr.forEach(pt=>{
      const c = mk("circle",{cx:sx(pt[0]).toFixed(1),cy:sy(pt[1]).toFixed(1),r:p.r,fill:fill,"fill-opacity":0.85,stroke:stroke,"stroke-width":2,"stroke-opacity":0.9},sg);
      
      
    });
  };
  if(p.orangeFirst){ drawSeries(p.orange,OR_F,OR_S,'denatured-points-'+p.id); drawSeries(p.blue,BLUE_F,BLUE_S,'non-denatured-points-'+p.id); }
  else { drawSeries(p.blue,BLUE_F,BLUE_S,'non-denatured-points-'+p.id); drawSeries(p.orange,OR_F,OR_S,'denatured-points-'+p.id); }
  const box = mk("rect",{x:L,y:T,width:R-L,height:B-T,fill:"none",stroke:"#555","stroke-width":3.5},g);
  
  
  const tk = mk("g",{stroke:"#444","stroke-width":3},g);
  
  
  p.tx.forEach(v=>{ const x=sx(v); mk("line",{x1:x,x2:x,y1:B,y2:B-12},tk); mk("line",{x1:x,x2:x,y1:T,y2:T+12},tk); });
  p.ty.forEach(v=>{ const y=sy(v); mk("line",{x1:L,x2:L+12,y1:y,y2:y},tk); mk("line",{x1:R,x2:R-12,y1:y,y2:y},tk); });
  if(p.minor){ for(let v=Math.ceil(p.yd[0]/2)*2; v<=p.yd[1]; v+=2){ if(v%10===0) continue; const y=sy(v); mk("line",{x1:L,x2:L+7,y1:y,y2:y},tk); mk("line",{x1:R,x2:R-7,y1:y,y2:y},tk);} }
  p.tx.forEach(v=>{
    const t = mk("text",{x:sx(v),y:B+87,"font-size":64,"text-anchor":"middle"},g);
    t.textContent = fmt(v);
    
    
  });
  p.ty.forEach((v,i)=>{
    const t = mk("text",{x:L-18,y:sy(v)+23,"font-size":64,"text-anchor":"end"},g);
    t.textContent = p.tyl ? p.tyl[i] : fmt(v);
    
    
  });
  const xt = mk("text",{x:(L+R)/2,y:B+172,"font-size":68,"text-anchor":"middle",textLength:585,lengthAdjust:"spacingAndGlyphs"},g);
  xt.textContent = "t-SNE Dimension 1";
  
  
  const cy=(T+B)/2;
  const yt = mk("text",{x:p.yt,y:cy,"font-size":68,"text-anchor":"middle",textLength:620,lengthAdjust:"spacingAndGlyphs",transform:`rotate(-90 ${p.yt} ${cy}) translate(0 24)`},g);
  yt.textContent = "t-SNE Dimension 2";
  
  
  const pl = mk("text",{x:p.lab[0],y:p.lab[1],"font-size":56,fill:"#111"},g);
  pl.textContent = panelLetters[pi];
  
  
  const lg = mk("g",{},g);
  
  
  const [mx,y1,y2,tx0]=p.leg;
  [[y1,BLUE_F,BLUE_S,seriesNames[0],342],[y2,OR_F,OR_S,seriesNames[1],234]].forEach((e,k)=>{
    const m = mk("circle",{cx:mx,cy:e[0],r:9,fill:e[1],"fill-opacity":0.85,stroke:e[2],"stroke-width":2},lg);
    
    
    const t = mk("text",{x:tx0,y:e[0]+18,"font-size":50,fill:"#000",textLength:e[4],lengthAdjust:"spacingAndGlyphs"},lg);
    t.textContent = e[3];
    
    
  });
});
</script>
</body></html>
